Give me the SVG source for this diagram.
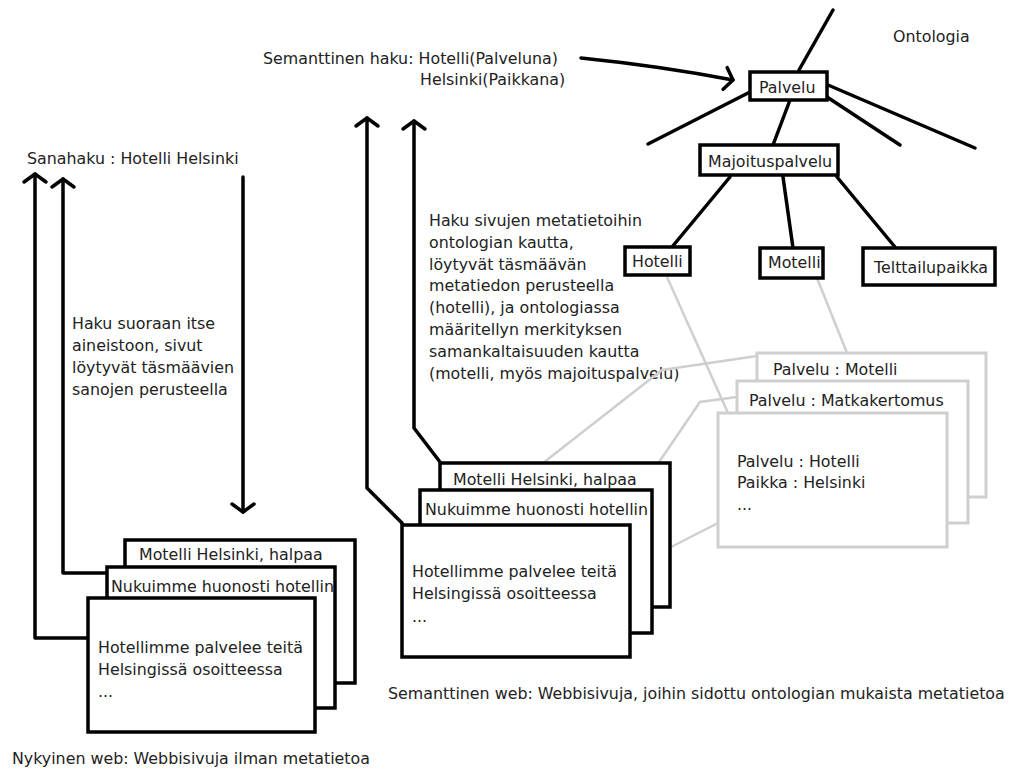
<svg xmlns="http://www.w3.org/2000/svg" width="1010" height="774" viewBox="0 0 1010 774">
<style>
text{font-family:"DejaVu Sans",Verdana,sans-serif;font-size:15.85px;fill:#222}
.b{fill:#fff;stroke:#000;stroke-width:3.5}
.g{fill:#fff;stroke:#cfcfcf;stroke-width:3}
.ln{fill:none;stroke:#000;stroke-width:3.5;stroke-linecap:round;stroke-linejoin:round}
.gl{fill:none;stroke:#cfcfcf;stroke-width:2.5}
</style>
<defs>
<marker id="arr" markerUnits="userSpaceOnUse" viewBox="-12 -14 16 28" refX="0" refY="0" markerWidth="16" markerHeight="28" orient="auto">
<path d="M-8,-11 L0,0 L-8,11" fill="none" stroke="#000" stroke-width="3.5" stroke-linecap="round" stroke-linejoin="round"/>
</marker>
</defs>
<rect width="1010" height="774" fill="#fff"/>

<g id="labels">
<text x="263" y="64">Semanttinen haku: Hotelli(Palveluna)</text>
<text x="420" y="85">Helsinki(Paikkana)</text>
<text x="893" y="42">Ontologia</text>
<text x="27" y="164">Sanahaku : Hotelli Helsinki</text>
<text x="72" y="329">Haku suoraan itse</text>
<text x="72" y="351">aineistoon, sivut</text>
<text x="72" y="373">löytyvät täsmäävien</text>
<text x="72" y="395">sanojen perusteella</text>
<text x="429" y="226">Haku sivujen metatietoihin</text>
<text x="429" y="248">ontologian kautta,</text>
<text x="429" y="270">löytyvät täsmäävän</text>
<text x="429" y="291">metatiedon perusteella</text>
<text x="429" y="313">(hotelli), ja ontologiassa</text>
<text x="429" y="335">määritellyn merkityksen</text>
<text x="429" y="357">samankaltaisuuden kautta</text>
<text x="429" y="379">(motelli, myös majoituspalvelu)</text>
<text x="388" y="699">Semanttinen web: Webbisivuja, joihin sidottu ontologian mukaista metatietoa</text>
<text x="12" y="764">Nykyinen web: Webbisivuja ilman metatietoa</text>
</g>

<g id="connectors">
<path class="ln" d="M799,70 L833,10"/>
<path class="ln" d="M750,92 L648,144"/>
<path class="ln" d="M827,97 L900,145"/>
<path class="ln" d="M828,85 L975,148"/>
<path class="ln" d="M790,100 L773,145"/>
<path class="ln" d="M730,177 L672,247"/>
<path class="ln" d="M783,177 L793,248"/>
<path class="ln" d="M837,177 L895,247"/>
<path class="ln" d="M581,58 Q660,66 733,80" marker-end="url(#arr)"/>
<path class="ln" d="M88,638 L35,638 L35,174" marker-end="url(#arr)"/>
<path class="ln" d="M107,573 L63,573 L63,179" marker-end="url(#arr)"/>
<path class="ln" d="M243,177 L243,512" marker-end="url(#arr)"/>
<path class="ln" d="M402,523 L367,488 L367,118" marker-end="url(#arr)"/>
<path class="ln" d="M440,462 L414,428 L414,121" marker-end="url(#arr)"/>
<path class="gl" d="M667,277 L728,413"/>
<path class="gl" d="M817,278 L847,353"/>
<path class="gl" d="M757,356 L662,370 L543,463"/>
<path class="gl" d="M737,397 L700,402 L640,490"/>
<path class="gl" d="M718,523 L632,567"/>
</g>

<g id="node-palvelu"><rect class="b" x="750" y="72" width="77" height="28"/><text x="759" y="93">Palvelu</text></g>
<g id="node-majoituspalvelu"><rect class="b" x="700" y="145" width="138" height="30"/><text x="708" y="167">Majoituspalvelu</text></g>
<g id="node-hotelli"><rect class="b" x="625" y="247" width="65" height="28"/><text x="632" y="267">Hotelli</text></g>
<g id="node-motelli"><rect class="b" x="760" y="248" width="63" height="30"/><text x="768" y="268">Motelli</text></g>
<g id="node-telttailupaikka"><rect class="b" x="863" y="248" width="132" height="37" stroke-width="4.5"/><text x="874" y="273">Telttailupaikka</text></g>

<g id="node-web-left-back"><rect class="b" x="125" y="540" width="230" height="143"/><text x="139" y="560">Motelli Helsinki, halpaa</text></g>
<g id="node-web-left-mid"><rect class="b" x="107" y="567" width="228" height="141"/><text x="111" y="592">Nukuimme huonosti hotellin</text></g>
<g id="node-web-left-front"><rect class="b" x="88" y="598" width="227" height="134"/><text x="98" y="653">Hotellimme palvelee teitä</text><text x="98" y="675">Helsingissä osoitteessa</text><text x="98" y="697">...</text></g>

<g id="node-web-sem-back"><rect class="b" x="440" y="463" width="230" height="144"/><text x="453" y="485">Motelli Helsinki, halpaa</text></g>
<g id="node-web-sem-mid"><rect class="b" x="420" y="490" width="232" height="143"/><text x="425" y="515">Nukuimme huonosti hotellin</text></g>
<g id="node-web-sem-front"><rect class="b" x="402" y="525" width="228" height="132"/><text x="412" y="577">Hotellimme palvelee teitä</text><text x="412" y="599">Helsingissä osoitteessa</text><text x="412" y="622">...</text></g>

<g id="node-meta-back"><rect class="g" x="757" y="353" width="229" height="144"/><text x="773" y="375">Palvelu : Motelli</text></g>
<g id="node-meta-mid"><rect class="g" x="737" y="381" width="231" height="142"/><text x="749" y="406">Palvelu : Matkakertomus</text></g>
<g id="node-meta-front"><rect class="g" x="718" y="413" width="229" height="134"/><text x="737" y="467">Palvelu : Hotelli</text><text x="737" y="488">Paikka : Helsinki</text><text x="737" y="510">...</text></g>
</svg>
